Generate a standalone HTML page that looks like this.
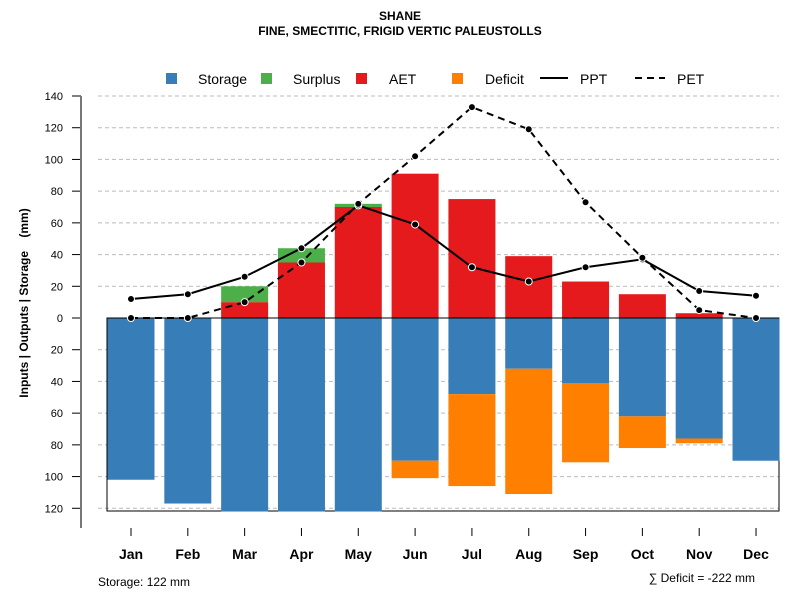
<!DOCTYPE html>
<html><head><meta charset="utf-8"><style>body{margin:0;background:#fff}svg text{font-family:"Liberation Sans",sans-serif}</style></head>
<body>
<svg id="c" width="800" height="600" xmlns="http://www.w3.org/2000/svg">
<text x="400" y="20" text-anchor="middle" font-size="12" font-weight="bold">SHANE</text>
<text x="400" y="35" text-anchor="middle" font-size="12" font-weight="bold">FINE, SMECTITIC, FRIGID VERTIC PALEUSTOLLS</text>
<text transform="translate(28,303) rotate(-90)" text-anchor="middle" font-size="12" font-weight="bold">Inputs | Outputs | Storage&#160;&#160;&#160;&#160;(mm)</text>
<g id="legend" font-size="14">
<rect x="166" y="73" width="11" height="11" fill="#377eb8"/><text x="198" y="84">Storage</text>
<rect x="261" y="73" width="11" height="11" fill="#4daf4a"/><text x="293" y="84">Surplus</text>
<rect x="356" y="73" width="11" height="11" fill="#e41a1c"/><text x="389" y="84">AET</text>
<rect x="452" y="73" width="11" height="11" fill="#ff7f00"/><text x="485" y="84">Deficit</text>
<line x1="540" y1="78" x2="568" y2="78" stroke="#000" stroke-width="2"/><text x="580" y="84">PPT</text>
<line x1="635" y1="78" x2="665" y2="78" stroke="#000" stroke-width="2" stroke-dasharray="7,5"/><text x="677" y="84">PET</text>
</g>
<g id="plot"></g>
<text x="98" y="586" font-size="12">Storage: 122 mm</text>
<text x="755" y="582" text-anchor="end" font-size="12">∑ Deficit = -222 mm</text>
</svg>
<script>
const months=["Jan","Feb","Mar","Apr","May","Jun","Jul","Aug","Sep","Oct","Nov","Dec"];
const ppt=[12,15,26,44,71,59,32,23,32,37,17,14];
const pet=[0,0,10,35,72,102,133,119,73,38,5,0];
const aet=[0,0,10,35,70,91,75,39,23,15,3,0];
const surplus=[0,0,10,9,2,0,0,0,0,0,0,0];
const storage=[102,117,122,122,122,90,48,32,41,62,76,90];
const deficit=[0,0,0,0,0,11,58,79,50,20,3,0];
const yTicks=[140,120,100,80,60,40,20,0,-20,-40,-60,-80,-100,-120];
const NS="http://www.w3.org/2000/svg";
const g=document.getElementById('plot');
const y=v=>318-v*222/140;
const x=i=>131+i*56.82;
const bw=47;
function mk(t,a){const e=document.createElementNS(NS,t);for(const k in a)e.setAttribute(k,a[k]);g.appendChild(e);return e;}
yTicks.forEach(t=>{
 if(t!==0){const l=mk('line',{x1:98,x2:779,y1:y(t),y2:y(t),stroke:'#bbb','stroke-dasharray':'4,3'});
 
 }
 const tk=mk('line',{x1:72,x2:81,y1:y(t),y2:y(t),stroke:'#000'});
 
 
 const tx=mk('text',{x:63,y:y(t)+4,'text-anchor':'end','font-size':11});tx.textContent=Math.abs(t);
 
 
});
const ax=mk('line',{x1:81,x2:81,y1:y(140),y2:528,stroke:'#777','stroke-width':2});


const box=mk('rect',{x:107,y:318,width:672,height:193,fill:'none',stroke:'#000'});


months.forEach((m,i)=>{
 const cx=x(i),x0=cx-bw/2;
 const r1=mk('rect',{x:x0,y:y(aet[i]),width:bw,height:y(0)-y(aet[i]),fill:'#e41a1c'});
 
 
 const r2=mk('rect',{x:x0,y:y(aet[i]+surplus[i]),width:bw,height:y(aet[i])-y(aet[i]+surplus[i]),fill:'#4daf4a'});
 
 
 const r3=mk('rect',{x:x0,y:y(0),width:bw,height:y(-storage[i])-y(0),fill:'#377eb8'});
 
 
 const r4=mk('rect',{x:x0,y:y(-storage[i]),width:bw,height:y(-storage[i]-deficit[i])-y(-storage[i]),fill:'#ff7f00'});
 
 
 const tk=mk('line',{x1:cx,x2:cx,y1:528,y2:536,stroke:'#000'});
 
 
 const t=mk('text',{x:cx,y:559,'text-anchor':'middle','font-size':14,'font-weight':'bold'});t.textContent=m;
 
 
});
const zl=mk('line',{x1:107,x2:779,y1:318,y2:318,stroke:'#000'});


[[ppt,'','ppt-line'],[pet,'7,5','pet-line']].forEach(([d,da,n])=>{
 const p=mk('polyline',{points:d.map((v,i)=>x(i)+','+y(v)).join(' '),fill:'none',stroke:'#000','stroke-width':2,'stroke-dasharray':da});
 
 
 d.forEach((v,i)=>{const c=mk('circle',{cx:x(i),cy:y(v),r:3.5,fill:'#000',stroke:'#fff','stroke-width':1});
 
 });
});
</script>
</body></html>
